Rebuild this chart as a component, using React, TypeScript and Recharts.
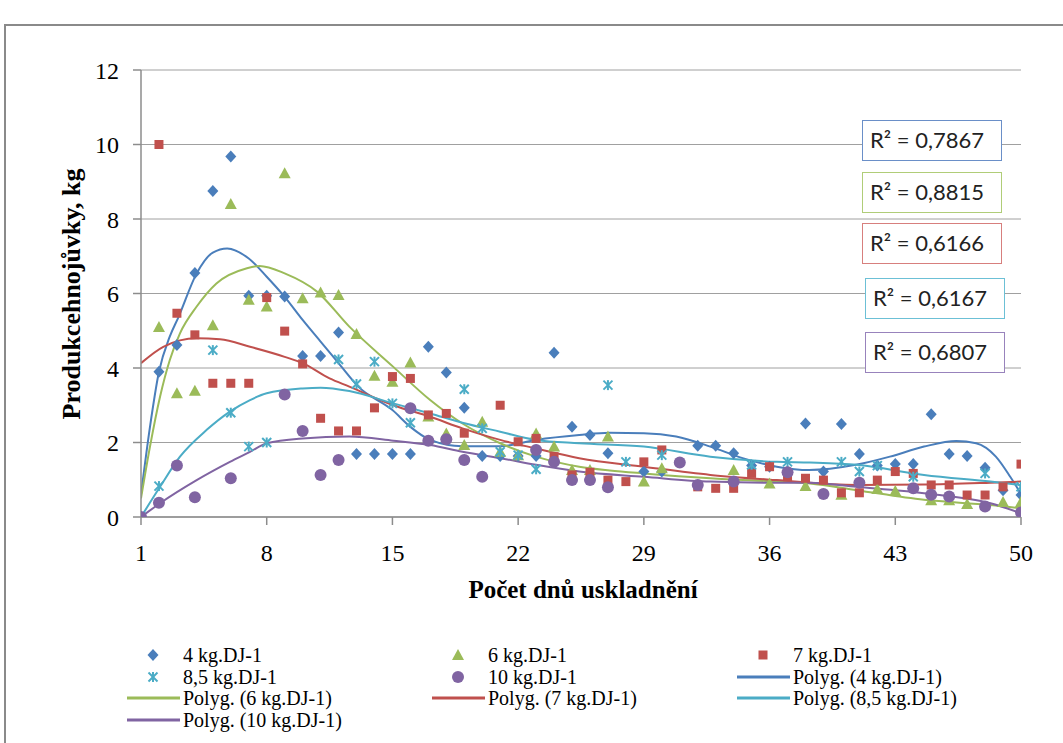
import React from "react";
import {
  ComposedChart,
  Scatter,
  Line,
  XAxis,
  YAxis,
  CartesianGrid,
} from "recharts";

// measured points [day, kg] – days without a visible marker are left out
const pts4: [number, number][] = [
  [1, 0], [2, 3.9], [3, 4.62], [4, 6.55], [5, 8.75], [6, 9.68], [7, 5.94], [8, 5.94], [9, 5.92],
  [10, 4.32], [11, 4.32], [12, 4.95], [13, 1.69], [14, 1.69], [15, 1.69], [16, 1.69], [17, 4.57],
  [18, 3.88], [19, 2.93], [20, 1.64], [21, 1.64], [22, 1.64], [23, 1.64], [24, 4.41], [25, 2.42],
  [26, 2.2], [27, 1.71], [29, 1.22], [30, 1.22], [32, 1.91], [33, 1.91], [34, 1.71], [35, 1.38],
  [36, 1.35], [37, 1.22], [38, 2.51], [39, 1.22], [40, 2.5], [41, 1.69], [42, 1.38], [43, 1.42],
  [44, 1.42], [45, 2.76], [46, 1.69], [47, 1.64], [48, 1.32], [49, 0.72], [50, 0.59],
];
const pts6: [number, number][] = [
  [2, 5.1], [3, 3.32], [4, 3.39], [5, 5.15], [6, 8.4], [7, 5.83], [8, 5.65], [9, 9.23], [10, 5.87],
  [11, 6.03], [12, 5.96], [13, 4.91], [14, 3.79], [15, 3.63], [16, 4.15], [17, 2.7], [18, 2.24],
  [19, 1.93], [20, 2.56], [21, 1.75], [22, 1.66], [23, 2.24], [24, 1.89], [25, 1.26], [26, 1.26],
  [27, 2.16], [29, 0.95], [30, 1.31], [34, 1.26], [36, 0.9], [38, 0.83], [40, 0.6], [42, 0.75],
  [43, 0.7], [45, 0.45], [46, 0.45], [47, 0.35], [49, 0.4], [50, 0.4],
];
const pts7: [number, number][] = [
  [2, 10], [3, 5.47], [4, 4.89], [5, 3.59], [6, 3.59], [7, 3.59], [8, 5.89], [9, 4.99], [10, 4.11],
  [11, 2.65], [12, 2.31], [13, 2.31], [14, 2.93], [15, 3.77], [16, 3.72], [17, 2.74], [18, 2.78],
  [19, 2.25], [21, 3.0], [22, 2.02], [23, 2.11], [24, 1.62], [25, 1.13], [26, 1.2], [27, 0.99],
  [28, 0.95], [29, 1.48], [30, 1.8], [32, 0.81], [33, 0.77], [34, 0.77], [35, 1.17], [36, 1.35],
  [37, 1.08], [38, 1.04], [39, 0.99], [40, 0.65], [41, 0.65], [42, 0.99], [43, 1.22], [44, 1.17],
  [45, 0.86], [46, 0.86], [47, 0.59], [48, 0.59], [49, 0.81], [50, 1.42],
];
const pts85: [number, number][] = [
  [1, 0], [2, 0.83], [5, 4.48], [6, 2.8], [7, 1.89], [8, 2.0], [12, 4.23], [13, 3.57], [14, 4.17],
  [15, 3.05], [16, 2.53], [19, 3.43], [20, 2.38], [21, 1.75], [22, 1.66], [23, 1.28], [27, 3.54],
  [28, 1.48], [30, 1.66], [35, 1.4], [37, 1.48], [40, 1.48], [41, 1.22], [42, 1.38], [44, 1.08],
  [48, 1.17], [50, 0.81],
];
const pts10: [number, number][] = [
  [1, 0], [2, 0.38], [3, 1.38], [4, 0.53], [6, 1.04], [9, 3.29], [10, 2.31], [11, 1.13], [12, 1.53],
  [16, 2.92], [17, 2.05], [18, 2.09], [19, 1.53], [20, 1.08], [23, 1.8], [24, 1.48], [25, 0.99],
  [26, 0.99], [27, 0.8], [31, 1.46], [32, 0.86], [34, 0.95], [37, 1.2], [39, 0.62], [41, 0.92],
  [44, 0.77], [45, 0.6], [46, 0.55], [48, 0.28], [50, 0.12],
];

// trend curves
const trend4: [number, number][] = [
  [1, 0.6], [1.5, 2.42], [2, 3.9], [2.6, 4.84], [3.1, 5.38], [4.1, 6.54], [5, 7.1], [5.8, 7.21],
  [7, 6.94], [8, 6.45], [9, 5.91], [10, 5.29], [11, 4.71], [12, 4.13], [13.1, 3.5], [15, 2.87],
  [16, 2.42], [17.1, 2.07], [18.9, 1.9], [21, 1.9], [23, 2.07], [25.4, 2.2], [27.1, 2.26],
  [29, 2.25], [30.8, 2.16], [32.7, 1.89], [34.5, 1.58], [36.4, 1.35], [38.2, 1.26], [40.8, 1.4],
  [42.7, 1.62], [44.6, 1.89], [46.4, 2.04], [47.5, 1.98], [48.6, 1.62], [49.4, 1.08], [50, 0.62],
];
const trend6: [number, number][] = [
  [1, 0.5], [1.5, 1.89], [2.06, 3.23], [2.6, 4.21], [3.17, 4.93], [4.1, 5.65], [5.2, 6.27],
  [6.9, 6.68], [7.6, 6.74], [9, 6.54], [10.8, 6.05], [12.6, 5.11], [15.05, 4.03], [17.1, 3.14],
  [18.9, 2.51], [21, 1.98], [23, 1.62], [25.4, 1.35], [27.1, 1.25], [29, 1.17], [32.7, 1.04],
  [36.4, 0.95], [38.25, 0.9], [40.85, 0.72], [44.6, 0.46], [48.3, 0.32], [50, 0.23],
];
const trend7: [number, number][] = [
  [1, 4.13], [2.24, 4.57], [4.1, 4.8], [5.4, 4.77], [7.07, 4.57], [9, 4.3], [10, 4.13], [11.5, 3.72],
  [12.6, 3.5], [15.05, 3.0], [17.1, 2.69], [18.9, 2.38], [21, 2.07], [23, 1.84], [25.4, 1.58],
  [29, 1.35], [32.7, 1.13], [36.4, 0.99], [40.85, 0.86], [44.6, 0.87], [48.3, 0.92], [50, 0.95],
];
const trend85: [number, number][] = [
  [1, 0], [2.06, 0.81], [3.17, 1.62], [4.66, 2.34], [5.95, 2.83], [7.07, 3.14], [8, 3.32],
  [10, 3.45], [11, 3.47], [12.6, 3.38], [15.05, 3.05], [17.1, 2.78], [18.9, 2.53], [21, 2.29],
  [23, 2.07], [25.4, 1.98], [29, 1.89], [32.7, 1.62], [36.4, 1.48], [38.25, 1.46], [40.85, 1.4],
  [44.6, 1.13], [48.3, 0.95], [50, 0.86],
];
const trend10: [number, number][] = [
  [1, 0], [2.06, 0.37], [4.1, 0.99], [5.95, 1.48], [7.07, 1.75], [8, 1.98], [10, 2.11], [12.6, 2.16],
  [15.05, 2.05], [17.1, 1.93], [18.9, 1.75], [21, 1.58], [23, 1.4], [25.4, 1.22], [29, 1.08],
  [32.7, 0.95], [36.4, 0.92], [38.25, 0.92], [40.85, 0.81], [44.6, 0.64], [48.3, 0.37], [50, 0.1],
];

const xTicks = [1, 8, 15, 22, 29, 36, 43, 50];
const yTicks = [0, 2, 4, 6, 8, 10, 12];
const r2Labels = ["0,7867", "0,8815", "0,6166", "0,6167", "0,6807"];

const BLUE = "#4a7ebb";
const GREEN = "#9bbb59";
const RED = "#c0504d";
const CYAN = "#4bacc6";
const PURPLE = "#8064a2";
const AXIS = "#8c8c8c";
const SERIF = "'Liberation Serif', 'Times New Roman', serif";

const toXY = (arr: [number, number][]) => arr.map(([x, y]) => ({ x, y }));

// eslint-disable-next-line @typescript-eslint/no-explicit-any
type P = any;

function Diamond({ cx, cy }: P) {
  return <path d={`M${cx},${cy - 6}L${cx + 5.5},${cy}L${cx},${cy + 6}L${cx - 5.5},${cy}Z`} fill={BLUE} />;
}
function Tri({ cx, cy }: P) {
  return <path d={`M${cx},${cy - 6}L${cx + 6},${cy + 5}L${cx - 6},${cy + 5}Z`} fill={GREEN} />;
}
function Sq({ cx, cy }: P) {
  return <rect x={cx - 4.5} y={cy - 4.5} width={9} height={9} fill={RED} />;
}
function Star({ cx, cy }: P) {
  return (
    <g stroke={CYAN} strokeWidth={2}>
      <line x1={cx - 4.5} y1={cy - 4.5} x2={cx + 4.5} y2={cy + 4.5} />
      <line x1={cx - 4.5} y1={cy + 4.5} x2={cx + 4.5} y2={cy - 4.5} />
      <line x1={cx} y1={cy - 5} x2={cx} y2={cy + 5} />
    </g>
  );
}
function Dot({ cx, cy }: P) {
  return <circle cx={cx} cy={cy} r={6} fill={PURPLE} />;
}

const r2Boxes = [
  { left: 862, top: 120, color: "#6a8fc8" },
  { left: 862, top: 172, color: "#b0cd78" },
  { left: 862, top: 223, color: "#d77f7d" },
  { left: 865, top: 278, color: "#6cc0d6" },
  { left: 865, top: 332, color: "#9883bc" },
];

type LegendItem = { label: string; kind: "marker" | "line"; color: string; marker?: (p: P) => React.ReactElement };
const legendItems: LegendItem[] = [
  { label: "4 kg.DJ-1", kind: "marker", color: BLUE, marker: Diamond },
  { label: "6 kg.DJ-1", kind: "marker", color: GREEN, marker: Tri },
  { label: "7 kg.DJ-1", kind: "marker", color: RED, marker: Sq },
  { label: "8,5 kg.DJ-1", kind: "marker", color: CYAN, marker: Star },
  { label: "10 kg.DJ-1", kind: "marker", color: PURPLE, marker: Dot },
  { label: "Polyg. (4 kg.DJ-1)", kind: "line", color: BLUE },
  { label: "Polyg. (6 kg.DJ-1)", kind: "line", color: GREEN },
  { label: "Polyg. (7 kg.DJ-1)", kind: "line", color: RED },
  { label: "Polyg. (8,5 kg.DJ-1)", kind: "line", color: CYAN },
  { label: "Polyg. (10 kg.DJ-1)", kind: "line", color: PURPLE },
];
const legendCols = [127, 432, 737];
const legendRows = [655, 677, 698, 720];

function ChartLegend() {
  return (
    <>
      {legendItems.map((it, i) => {
        const left = legendCols[i % 3];
        const top = legendRows[Math.floor(i / 3)];
        const M = it.marker;
        return (
          <div key={it.label} style={{ position: "absolute", left, top: top - 12, height: 24, display: "flex", alignItems: "center" }}>
            <svg width={53} height={24} style={{ display: "block" }}>
              {it.kind === "line" ? (
                <line x1={0} y1={12} x2={53} y2={12} stroke={it.color} strokeWidth={3} />
              ) : (
                M && <M cx={26} cy={12} />
              )}
            </svg>
            <span style={{ fontFamily: SERIF, fontSize: 20, marginLeft: 3, whiteSpace: "nowrap", color: "#000" }}>{it.label}</span>
          </div>
        );
      })}
    </>
  );
}

export default function App() {
  return (
    <div style={{ position: "absolute", left: 0, top: 0, width: 1063, height: 743, overflow: "hidden", background: "#fff" }}>
      <div style={{ position: "absolute", left: 4, top: 24, width: 1100, height: 800, border: "2px solid #8a8a8a", boxSizing: "border-box" }} />
      <div style={{ position: "absolute", left: 0, top: 0 }}>
        <ComposedChart width={1063} height={600} margin={{ top: 70, right: 42, left: 0, bottom: 43 }}>
          <CartesianGrid horizontal vertical={false} stroke="#a0a0a0" strokeWidth={1} />
          <XAxis
            type="number"
            dataKey="x"
            domain={[1, 50]}
            ticks={xTicks}
            interval={0}
            height={40}
            allowDataOverflow
            axisLine={{ stroke: AXIS, strokeWidth: 1.5 }}
            tickLine={{ stroke: AXIS, strokeWidth: 1.5 }}
            tickSize={8}
            tickMargin={19}
            tick={{ fontFamily: SERIF, fontSize: 24, fill: "#000" }}
          />
          <YAxis
            type="number"
            dataKey="y"
            domain={[0, 12]}
            ticks={yTicks}
            interval={0}
            width={141}
            allowDataOverflow
            axisLine={{ stroke: AXIS, strokeWidth: 1.5 }}
            tickLine={{ stroke: AXIS, strokeWidth: 1.5 }}
            tickSize={8}
            tickMargin={14}
            tick={{ fontFamily: SERIF, fontSize: 24, fill: "#000" }}
          />
          <Scatter data={toXY(pts4)} shape={Diamond} isAnimationActive={false} />
          <Scatter data={toXY(pts6)} shape={Tri} isAnimationActive={false} />
          <Scatter data={toXY(pts7)} shape={Sq} isAnimationActive={false} />
          <Scatter data={toXY(pts85)} shape={Star} isAnimationActive={false} />
          <Scatter data={toXY(pts10)} shape={Dot} isAnimationActive={false} />
          <Line data={toXY(trend4)} dataKey="y" type="monotone" stroke={BLUE} strokeWidth={2} dot={false} isAnimationActive={false} />
          <Line data={toXY(trend6)} dataKey="y" type="monotone" stroke={GREEN} strokeWidth={2} dot={false} isAnimationActive={false} />
          <Line data={toXY(trend7)} dataKey="y" type="monotone" stroke={RED} strokeWidth={2} dot={false} isAnimationActive={false} />
          <Line data={toXY(trend85)} dataKey="y" type="monotone" stroke={CYAN} strokeWidth={2} dot={false} isAnimationActive={false} />
          <Line data={toXY(trend10)} dataKey="y" type="monotone" stroke={PURPLE} strokeWidth={2} dot={false} isAnimationActive={false} />
        </ComposedChart>
      </div>

      <div
        style={{
          position: "absolute",
          left: 72,
          top: 294,
          transform: "translate(-50%, -50%) rotate(-90deg)",
          fontFamily: SERIF,
          fontWeight: "bold",
          fontSize: 26,
          whiteSpace: "nowrap",
        }}
      >
        Produkcehnojůvky, kg
      </div>
      <div
        style={{
          position: "absolute",
          left: 583,
          top: 590,
          transform: "translate(-50%, -50%)",
          fontFamily: SERIF,
          fontWeight: "bold",
          fontSize: 25,
          whiteSpace: "nowrap",
        }}
      >
        Počet dnů uskladnění
      </div>

      {r2Boxes.map((b, i) => (
        <div
          key={i}
          style={{
            position: "absolute",
            left: b.left,
            top: b.top,
            width: 140,
            height: 41,
            boxSizing: "border-box",
            border: `1.5px solid ${b.color}`,
            background: "#fff",
            fontFamily: "Lato, 'Noto Sans', sans-serif",
            fontSize: 22,
            lineHeight: "38px",
            paddingLeft: 7,
            color: "#222",
            whiteSpace: "nowrap",
          }}
        >
          R² = {r2Labels[i]}
        </div>
      ))}

      <ChartLegend />
    </div>
  );
}
